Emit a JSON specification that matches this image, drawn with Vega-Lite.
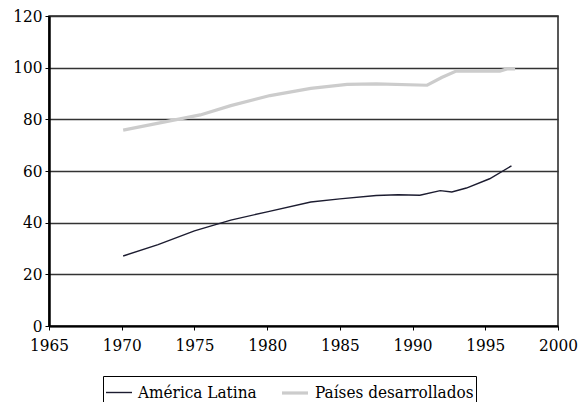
{
  "$schema": "https://vega.github.io/schema/vega-lite/v6.json",
  "width": 509,
  "height": 310,
  "autosize": {"type": "none"},
  "padding": {"left": 49, "top": 16, "right": 26, "bottom": 76},
  "background": "white",
  "config": {
    "font": "DejaVu Serif Condensed",
    "view": {"stroke": "#222", "strokeWidth": 1.5},
    "legend": {"strokeColor": "#000", "fillColor": "white"}
  },
  "data": {
    "values": [
      {"year": 1970.1, "value": 27.1, "serie": "América Latina"},
      {"year": 1972.5, "value": 31.5, "serie": "América Latina"},
      {"year": 1975.0, "value": 36.8, "serie": "América Latina"},
      {"year": 1977.5, "value": 41.0, "serie": "América Latina"},
      {"year": 1980.0, "value": 44.2, "serie": "América Latina"},
      {"year": 1983.0, "value": 48.0, "serie": "América Latina"},
      {"year": 1985.0, "value": 49.2, "serie": "América Latina"},
      {"year": 1987.5, "value": 50.5, "serie": "América Latina"},
      {"year": 1989.0, "value": 50.8, "serie": "América Latina"},
      {"year": 1990.5, "value": 50.6, "serie": "América Latina"},
      {"year": 1991.9, "value": 52.4, "serie": "América Latina"},
      {"year": 1992.7, "value": 51.9, "serie": "América Latina"},
      {"year": 1993.7, "value": 53.4, "serie": "América Latina"},
      {"year": 1995.3, "value": 57.0, "serie": "América Latina"},
      {"year": 1996.8, "value": 62.0, "serie": "América Latina"},
      {"year": 1970.1, "value": 75.8, "serie": "Países desarrollados"},
      {"year": 1975.4, "value": 81.7, "serie": "Países desarrollados"},
      {"year": 1977.5, "value": 85.3, "serie": "Países desarrollados"},
      {"year": 1980.2, "value": 89.2, "serie": "Países desarrollados"},
      {"year": 1983.0, "value": 92.0, "serie": "Países desarrollados"},
      {"year": 1985.5, "value": 93.5, "serie": "Países desarrollados"},
      {"year": 1987.5, "value": 93.7, "serie": "Países desarrollados"},
      {"year": 1991.0, "value": 93.2, "serie": "Países desarrollados"},
      {"year": 1992.0, "value": 96.2, "serie": "Países desarrollados"},
      {"year": 1993.0, "value": 98.7, "serie": "Países desarrollados"},
      {"year": 1996.0, "value": 98.7, "serie": "Países desarrollados"},
      {"year": 1996.5, "value": 99.5, "serie": "Países desarrollados"},
      {"year": 1997.05, "value": 99.5, "serie": "Países desarrollados"}
    ]
  },
  "mark": {"type": "line", "interpolate": "linear"},
  "encoding": {
    "x": {
      "field": "year",
      "type": "quantitative",
      "scale": {"domain": [1965, 2000], "nice": false, "zero": false},
      "axis": {
        "title": null,
        "values": [1965, 1970, 1975, 1980, 1985, 1990, 1995, 2000],
        "format": "d",
        "grid": false,
        "domainColor": "#000",
        "domainWidth": 2,
        "tickColor": "#000",
        "tickWidth": 1,
        "tickSize": 4,
        "labelFont": "DejaVu Serif Condensed",
        "labelFontSize": 17,
        "labelColor": "#000",
        "labelPadding": 7,
        "labelFlush": false
      }
    },
    "y": {
      "field": "value",
      "type": "quantitative",
      "scale": {"domain": [0, 120], "nice": false},
      "axis": {
        "title": null,
        "values": [0, 20, 40, 60, 80, 100, 120],
        "grid": true,
        "gridColor": "#333",
        "gridWidth": 1.3,
        "domainColor": "#000",
        "domainWidth": 2.5,
        "tickColor": "#000",
        "tickWidth": 1,
        "tickSize": 4,
        "labelFont": "DejaVu Serif Condensed",
        "labelFontSize": 17,
        "labelColor": "#000",
        "labelPadding": 3
      }
    },
    "color": {
      "field": "serie",
      "type": "nominal",
      "scale": {
        "domain": ["América Latina", "Países desarrollados"],
        "range": ["#1c1c30", "#cccccc"]
      },
      "legend": {
        "title": null,
        "orient": "none",
        "legendX": 54,
        "legendY": 360,
        "direction": "horizontal",
        "symbolType": "stroke",
        "symbolSize": 676,
        "symbolStrokeWidth": 2,
        "labelFont": "DejaVu Serif Condensed",
        "labelFontSize": 17,
        "labelColor": "#000",
        "labelOffset": 5,
        "columnPadding": 18,
        "padding": 2,
        "strokeColor": "#000",
        "fillColor": "white",
        "labelLimit": 300
      }
    },
    "strokeWidth": {
      "field": "serie",
      "type": "nominal",
      "scale": {"domain": ["América Latina", "Países desarrollados"], "range": [1.4, 3.2]},
      "legend": null
    }
  }
}
